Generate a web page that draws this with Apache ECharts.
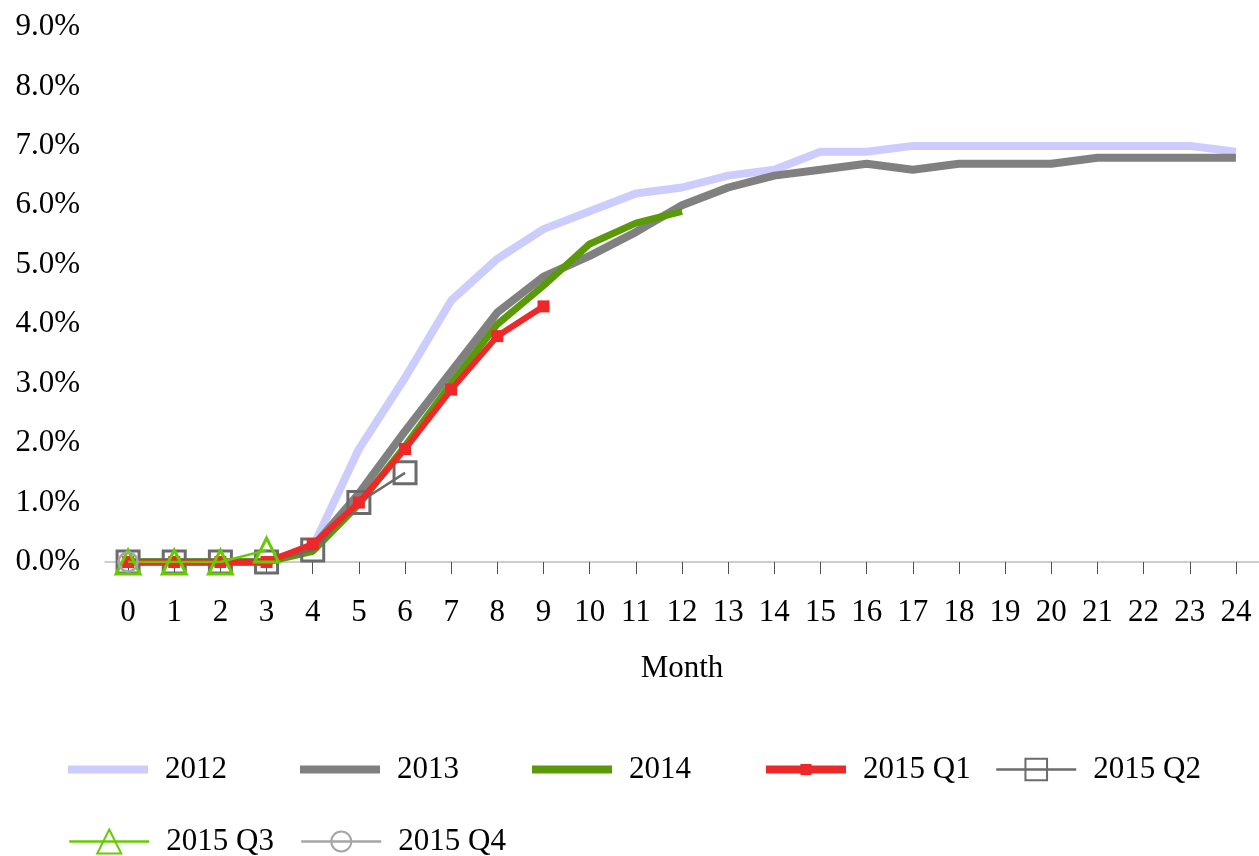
<!DOCTYPE html>
<html>
<head>
<meta charset="utf-8">
<script src="https://cdn.jsdelivr.net/npm/echarts@6/dist/echarts.min.js"></script>
<style>
html,body{margin:0;padding:0;background:#fff;}
#chart{width:1259px;height:856px;}
</style>
</head>
<body>
<div id="chart"></div>
<script>
const months = [0,1,2,3,4,5,6,7,8,9,10,11,12,13,14,15,16,17,18,19,20,21,22,23,24];
const yTicks = [0,1,2,3,4,5,6,7,8,9];
const s2012 = [0,0,0,0,0.25,1.9,3.1,4.4,5.1,5.6,5.9,6.2,6.3,6.5,6.6,6.9,6.9,7.0,7.0,7.0,7.0,7.0,7.0,7.0,6.9];
const s2013 = [0,0,0,0,0.25,1.15,2.2,3.2,4.2,4.8,5.15,5.55,6.0,6.3,6.5,6.6,6.7,6.6,6.7,6.7,6.7,6.8,6.8,6.8,6.8];
const s2014 = [0,0,0,0,0.18,0.97,1.95,3.0,4.0,4.65,5.35,5.7,5.9];
const s2015Q1 = [0,0,0,0,0.3,1.0,1.9,2.9,3.8,4.3];
const s2015Q2 = [0,0,0,0,0.2,1.0,1.5];
const s2015Q3 = [0,0,0,0.2];
const s2015Q4 = [0];

const FONT = '"Liberation Serif", "DejaVu Serif", serif';
const FS = 31;
function pairs(arr){ return arr.map((v,i)=>[months[i], v]); }

const chart = echarts.init(document.getElementById('chart'));

function leg(item, left, center, h, extra){
  const boxH = Math.max(h, 36);
  return Object.assign({
    data:[item], left:left, top:center - boxH/2, itemWidth:80, itemHeight:h,
    textStyle:{fontFamily:FONT, fontSize:FS, color:'#000', padding:[0,0,0,12]},
    padding:0, selectedMode:false
  }, extra || {});
}
const R1 = 772, R2 = 844;

const option = {
  backgroundColor:'#fff',
  animation:false,
  grid:{left:105, top:27, width:1158, bottom:294, containLabel:false},
  legend:[
    leg({name:'2012', icon:'rect'}, 68, R1, 8),
    leg({name:'2013', icon:'rect'}, 300, R1, 8),
    leg({name:'2014', icon:'rect'}, 532, R1, 8),
    leg('2015 Q1', 762, R1, 14, {lineStyle:{width:8}}),
    leg('2015 Q2', 995, R1, 27, {lineStyle:{width:2.5}}),
    leg('2015 Q3', 68, R2, 30, {lineStyle:{width:2.5}}),
    leg('2015 Q4', 300, R2, 25, {lineStyle:{width:2.5}})
  ],
  xAxis:{
    type:'value', min:-0.5, max:24.5,
    name:'Month', nameLocation:'middle', nameGap:91,
    nameTextStyle:{fontFamily:FONT, fontSize:FS, color:'#000'},
    axisLine:{show:true, lineStyle:{color:'#bfbfbf', width:1.5}},
    axisTick:{show:true, customValues:months, length:12, inside:false, lineStyle:{color:'#505050', width:1}},
    axisLabel:{customValues:months, fontFamily:FONT, fontSize:FS, color:'#000', margin:35},
    splitLine:{show:false}
  },
  yAxis:{
    type:'value', min:0, max:9, interval:1,
    axisLine:{show:false}, axisTick:{show:false}, splitLine:{show:false},
    axisLabel:{customValues:yTicks, fontFamily:FONT, fontSize:FS, color:'#000', margin:25,
      formatter:v=>v.toFixed(1)+'%'}
  },
  series:[
    {name:'2012', type:'line', data:pairs(s2012), symbol:'none', showSymbol:false,
      lineStyle:{color:'#ccccff', width:8}, itemStyle:{color:'#ccccff'}, z:2},
    {name:'2013', type:'line', data:pairs(s2013), symbol:'none', showSymbol:false,
      lineStyle:{color:'#808080', width:8}, itemStyle:{color:'#808080'}, z:2},
    {name:'2014', type:'line', data:pairs(s2014), symbol:'none', showSymbol:false,
      lineStyle:{color:'#5a9a08', width:7}, itemStyle:{color:'#5a9a08'}, z:2},
    {name:'2015 Q1', type:'line', data:pairs(s2015Q1), symbol:'rect', symbolSize:12,
      lineStyle:{color:'#ee2828', width:6}, itemStyle:{color:'#ee2828'}, z:4},
    {name:'2015 Q2', type:'line', data:pairs(s2015Q2), symbol:'rect', symbolSize:22,
      lineStyle:{color:'#6b6b6b', width:2.5},
      itemStyle:{color:'rgba(255,255,255,0)', borderColor:'#6b6b6b', borderWidth:3}, z:3},
    {name:'2015 Q3', type:'line', data:pairs(s2015Q3), symbol:'triangle', symbolSize:[24,24],
      lineStyle:{color:'#66cc00', width:2.5},
      itemStyle:{color:'rgba(255,255,255,0)', borderColor:'#66cc00', borderWidth:3}, z:5},
    {name:'2015 Q4', type:'line', data:pairs(s2015Q4), symbol:'circle', symbolSize:19,
      lineStyle:{color:'#a6a6a6', width:2.5},
      itemStyle:{color:'rgba(255,255,255,0)', borderColor:'#a6a6a6', borderWidth:2.5}, z:5}
  ]
};
chart.setOption(option);
</script>
</body>
</html>
